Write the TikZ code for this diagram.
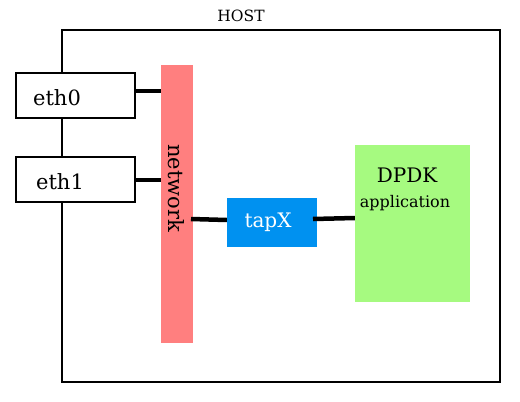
\documentclass[tikz,border=0pt]{standalone}
\usepackage{fontspec}
\setmainfont{DejaVu Serif}
\begin{document}
\begin{tikzpicture}[x=1pt,y=-1pt,
  ethbox/.style={draw=black,line width=1.8pt,fill=white,minimum width=119pt,minimum height=45pt,inner sep=0pt},
  conn/.style={line width=4.5pt},
  fillbox/.style={inner sep=0pt}]
\useasboundingbox (0,0) rectangle (520,402);
\node[fillbox,draw=black,line width=2.2pt,minimum width=438pt,minimum height=352pt] (host) at (281,206) {};
\node[font=\fontsize{15.5}{18}\selectfont] (hostlbl) at (241,16) {HOST};
\node[ethbox] (eth0) at (75.5,95.5) {};
\node[font=\fontsize{21}{24}\selectfont] (eth0lbl) at (57,98) {eth0};
\node[ethbox] (eth1) at (75.5,179.5) {};
\node[font=\fontsize{21}{24}\selectfont] (eth1lbl) at (60,182) {eth1};
\node[fillbox,fill={rgb,255:red,255;green,127;blue,127},minimum width=32pt,minimum height=278pt] (net) at (177,204) {};
\node[rotate=-90,font=\fontsize{21}{24}\selectfont] (netlbl) at (176,188) {network};
\node[fillbox,fill={rgb,255:red,0;green,145;blue,240},minimum width=90pt,minimum height=49pt] (tap) at (272,222.5) {};
\node[text=white,font=\fontsize{20}{22}\selectfont] (taplbl) at (268,222) {tapX};
\node[fillbox,fill={rgb,255:red,166;green,250;blue,128},minimum width=115pt,minimum height=157pt] (dpdk) at (412.5,223.5) {};
\node[font=\fontsize{20}{22}\selectfont] (dpdklbl) at (407,175) {DPDK};
\node[font=\fontsize{16}{18}\selectfont] (applbl) at (405,203) {application};
\draw[conn] (eth0.east |- 0,91) -- (net.west |- 0,91);
\draw[conn] (eth1.east |- 0,180) -- (net.west |- 0,180);
\draw[conn] (191,219) -- (tap.west |- 0,220);
\draw[conn] (313,219) -- (dpdk.west |- 0,218);
\end{tikzpicture}
\end{document}
